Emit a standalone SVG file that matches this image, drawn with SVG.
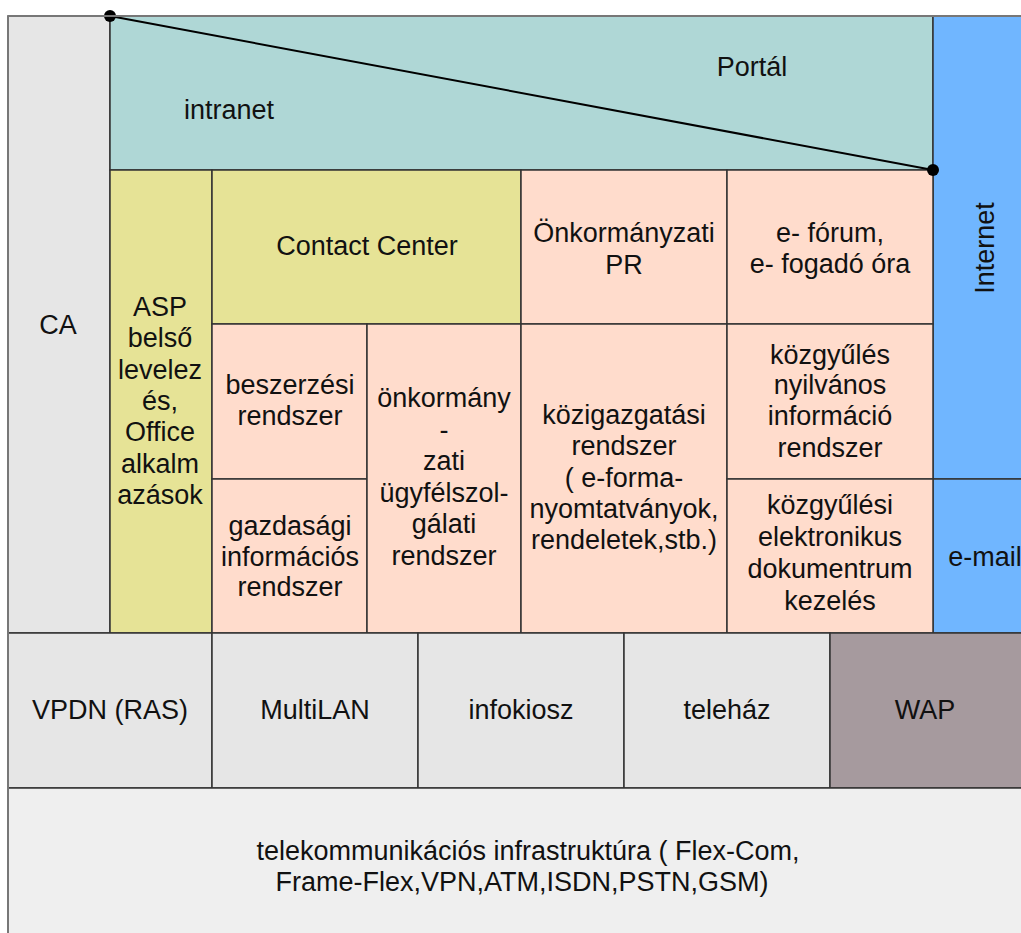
<svg xmlns="http://www.w3.org/2000/svg" width="1021" height="933" viewBox="0 0 1021 933">
<style>
text{font-family:"Liberation Sans",Arial,sans-serif;font-size:27px;fill:#111;text-anchor:middle}
.b{stroke:#333;stroke-width:1.5}
.g{fill:#e6e6e6}.t{fill:#afd7d6}.y{fill:#e6e396}.s{fill:#ffdccc}.bl{fill:#70b6ff}.w{fill:#a69a9e}.l{fill:#efefef}
</style>
<rect width="1021" height="933" fill="#fff"/>
<g id="ca"><rect class="g b" x="8" y="16" width="102" height="617"/><text x="58" y="334">CA</text></g>
<g id="portal"><rect class="t b" x="110" y="16" width="823" height="154"/><text x="229" y="119">intranet</text><text x="752" y="76">Portál</text></g>
<g id="internet"><rect class="bl b" x="933" y="16" width="100" height="463"/><text transform="translate(994,248) rotate(-90)">Internet</text></g>
<g id="email"><rect class="bl b" x="933" y="479" width="100" height="154"/><text x="985" y="566">e-mail</text></g>
<g id="asp"><rect class="y b" x="110" y="170" width="102" height="463"/><text x="160" y="316">ASP</text><text x="160" y="347">belső</text><text x="160" y="379">levelez</text><text x="160" y="410">és,</text><text x="160" y="441">Office</text><text x="160" y="473">alkalm</text><text x="160" y="504">azások</text></g>
<g id="contact"><rect class="y b" x="212" y="170" width="309" height="154"/><text x="367" y="255">Contact Center</text></g>
<g id="pr"><rect class="s b" x="521" y="170" width="206" height="154"/><text x="624" y="242">Önkormányzati</text><text x="624" y="274">PR</text></g>
<g id="forum"><rect class="s b" x="727" y="170" width="206" height="154"/><text x="830" y="242">e- fórum,</text><text x="830" y="273">e- fogadó óra</text></g>
<g id="beszerzesi"><rect class="s b" x="212" y="324" width="155" height="155"/><text x="290" y="394">beszerzési</text><text x="290" y="425">rendszer</text></g>
<g id="gazdasagi"><rect class="s b" x="212" y="479" width="155" height="154"/><text x="290" y="535">gazdasági</text><text x="290" y="566">információs</text><text x="290" y="596">rendszer</text></g>
<g id="onkormany"><rect class="s b" x="367" y="324" width="154" height="309"/><text x="444" y="407">önkormány</text><text x="444" y="439">-</text><text x="444" y="470">zati</text><text x="444" y="502">ügyfélszol-</text><text x="444" y="533">gálati</text><text x="444" y="565">rendszer</text></g>
<g id="kozigazgatasi"><rect class="s b" x="521" y="324" width="206" height="309"/><text x="624" y="424">közigazgatási</text><text x="624" y="455">rendszer</text><text x="624" y="487">( e-forma-</text><text x="624" y="518">nyomtatványok,</text><text x="624" y="549">rendeletek,stb.)</text></g>
<g id="kozgyules"><rect class="s b" x="727" y="324" width="206" height="155"/><text x="830" y="364">közgyűlés</text><text x="830" y="394">nyilvános</text><text x="830" y="425">információ</text><text x="830" y="457">rendszer</text></g>
<g id="kozgyulesi"><rect class="s b" x="727" y="479" width="206" height="154"/><text x="830" y="514">közgyűlési</text><text x="830" y="546">elektronikus</text><text x="830" y="578">dokumentrum</text><text x="830" y="610">kezelés</text></g>
<g id="vpdn"><rect class="g b" x="8" y="633" width="204" height="155"/><text x="110" y="719">VPDN (RAS)</text></g>
<g id="multilan"><rect class="g b" x="212" y="633" width="206" height="155"/><text x="315" y="719">MultiLAN</text></g>
<g id="infokiosz"><rect class="g b" x="418" y="633" width="206" height="155"/><text x="521" y="719">infokiosz</text></g>
<g id="telehaz"><rect class="g b" x="624" y="633" width="206" height="155"/><text x="727" y="719">teleház</text></g>
<g id="wap"><rect class="w b" x="830" y="633" width="203" height="155"/><text x="925" y="719">WAP</text></g>
<g id="telekom"><rect class="l b" x="8" y="788" width="1025" height="160"/><text x="528" y="860">telekommunikációs infrastruktúra ( Flex-Com,</text><text x="522" y="891">Frame-Flex,VPN,ATM,ISDN,PSTN,GSM)</text></g>
<g id="connectors"><line x1="110" y1="16" x2="933" y2="170" stroke="#000" stroke-width="2"/><circle cx="110" cy="16" r="6" fill="#000"/><circle cx="933" cy="170" r="6" fill="#000"/></g>
<path d="M8 16H1021M8 16V933" fill="none" stroke="#777" stroke-width="2"/>
</svg>
